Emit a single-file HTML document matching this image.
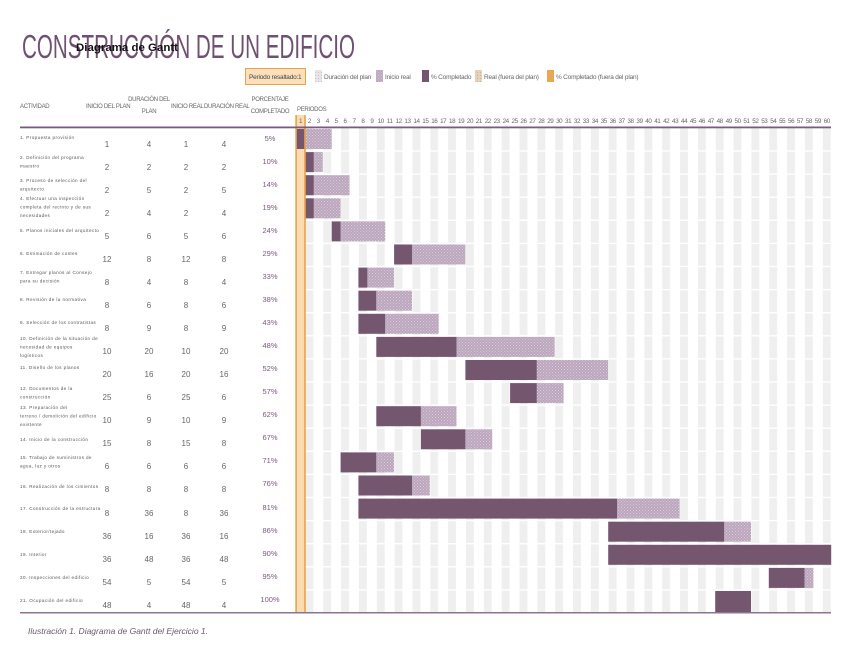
<!DOCTYPE html>
<html><head><meta charset="utf-8"><style>
html,body{margin:0;padding:0;background:#fff;width:848px;height:655px;overflow:hidden}
svg{display:block}
text{font-family:"Liberation Sans",sans-serif}
.a{font-size:4.6px;fill:#555;letter-spacing:0.4px}
.n{font-size:8px;fill:#666;text-anchor:middle}
.p{font-size:7.5px;fill:#7a5a7e;text-anchor:middle}
.h{font-size:6px;fill:#666;letter-spacing:-0.3px}
.hc{font-size:6px;fill:#666;text-anchor:middle;letter-spacing:-0.3px}
.pn text{font-size:6.3px;fill:#666;text-anchor:middle;letter-spacing:-0.4px}
.lg{font-size:6.5px;fill:#666;letter-spacing:-0.2px}
.d{fill:#74566f}
.l{fill:url(#hatch)}
</style></head><body>
<svg width="848" height="655" viewBox="0 0 848 655" xmlns="http://www.w3.org/2000/svg">
<defs>
<pattern id="stripes" x="296" y="0" width="17.84" height="655" patternUnits="userSpaceOnUse">
<rect x="9.4" y="0" width="7.9" height="655" fill="#efefef"/>
</pattern>
<pattern id="hatch" width="3" height="3" patternUnits="userSpaceOnUse">
<rect width="3" height="3" fill="#bba6bd"/><rect width="1" height="1" fill="#d7c9d8"/><rect x="1.5" y="1.5" width="1" height="1" fill="#d7c9d8"/>
</pattern>
<pattern id="hatch2" width="3" height="3" patternUnits="userSpaceOnUse">
<rect width="3" height="3" fill="#e8e4e8"/><rect width="1" height="1" fill="#c9bfca"/>
</pattern>
<pattern id="hatch3" width="3" height="3" patternUnits="userSpaceOnUse">
<rect width="3" height="3" fill="#e6d2b6"/><rect width="1" height="1" fill="#c9b08f"/>
</pattern>
</defs>

<!-- title -->
<text x="22" y="58" font-size="33" fill="#6f5072" textLength="333" lengthAdjust="spacingAndGlyphs">CONSTRUCCIÓN DE UN EDIFICIO</text>
<text x="76" y="51" font-size="11" font-weight="bold" fill="#111" textLength="102" lengthAdjust="spacingAndGlyphs">Diagrama de Gantt</text>

<!-- legend -->
<rect x="245.5" y="68.5" width="60" height="16" fill="#fbe0bb" stroke="#e8a24a" stroke-width="1"/>
<text x="249" y="79" class="lg" fill="#444" style="fill:#444">Periodo resaltado:</text>
<text x="298" y="79" class="lg" style="fill:#444">1</text>
<rect x="315" y="70" width="7" height="12" fill="url(#hatch2)"/>
<text x="324" y="79" class="lg">Duración del plan</text>
<rect x="376" y="70" width="7" height="12" fill="url(#hatch)"/>
<text x="385" y="79" class="lg">Inicio real</text>
<rect x="422" y="70" width="7" height="12" fill="#74566f"/>
<text x="431" y="79" class="lg">% Completado</text>
<rect x="475" y="70" width="7" height="12" fill="url(#hatch3)"/>
<text x="484" y="79" class="lg">Real (fuera del plan)</text>
<rect x="547" y="70" width="7" height="12" fill="#e8a850"/>
<text x="556" y="79" class="lg">% Completado (fuera del plan)</text>

<!-- headers -->
<text x="20" y="108" class="h">ACTIVIDAD</text>
<text x="86" y="108" class="h">INICIO DEL PLAN</text>
<text x="149" y="101" class="hc">DURACIÓN DEL</text>
<text x="149" y="113" class="hc">PLAN</text>
<text x="171" y="108" class="h">INICIO REAL</text>
<text x="204" y="108" class="h">DURACIÓN REAL</text>
<text x="270" y="101" class="hc">PORCENTAJE</text>
<text x="270" y="113" class="hc">COMPLETADO</text>
<text x="297" y="111" class="h">PERIODOS</text>

<!-- grid -->
<rect x="296" y="128" width="535.2" height="485" fill="url(#stripes)"/>
<g fill="#fff">
<rect x="296" y="150.3" width="536" height="1.4"/><rect x="296" y="173.4" width="536" height="1.4"/><rect x="296" y="196.5" width="536" height="1.4"/><rect x="296" y="219.6" width="536" height="1.4"/><rect x="296" y="242.7" width="536" height="1.4"/><rect x="296" y="265.8" width="536" height="1.4"/><rect x="296" y="288.9" width="536" height="1.4"/><rect x="296" y="312" width="536" height="1.4"/><rect x="296" y="335.1" width="536" height="1.4"/><rect x="296" y="358.2" width="536" height="1.4"/><rect x="296" y="381.3" width="536" height="1.4"/><rect x="296" y="404.4" width="536" height="1.4"/><rect x="296" y="427.5" width="536" height="1.4"/><rect x="296" y="450.6" width="536" height="1.4"/><rect x="296" y="473.7" width="536" height="1.4"/><rect x="296" y="496.8" width="536" height="1.4"/><rect x="296" y="519.9" width="536" height="1.4"/><rect x="296" y="543" width="536" height="1.4"/><rect x="296" y="566.1" width="536" height="1.4"/><rect x="296" y="589.2" width="536" height="1.4"/>
</g>
<!-- highlighted period column -->
<rect x="296" y="115" width="9" height="498" fill="#fbdcb0"/>

<!-- bars -->
<g>
<rect class="l" x="304.9" y="129" width="26.8" height="20"/><rect class="d" x="296" y="129" width="8.9" height="20"/>
<rect class="l" x="313.8" y="152.1" width="9" height="20"/><rect class="d" x="304.9" y="152.1" width="8.9" height="20"/>
<rect class="l" x="313.8" y="175.2" width="35.7" height="20"/><rect class="d" x="304.9" y="175.2" width="8.9" height="20"/>
<rect class="l" x="313.8" y="198.3" width="26.8" height="20"/><rect class="d" x="304.9" y="198.3" width="8.9" height="20"/>
<rect class="l" x="340.6" y="221.4" width="44.6" height="20"/><rect class="d" x="331.7" y="221.4" width="8.9" height="20"/>
<rect class="l" x="412" y="244.5" width="53.4" height="20"/><rect class="d" x="394.1" y="244.5" width="17.9" height="20"/>
<rect class="l" x="367.4" y="267.6" width="26.7" height="20"/><rect class="d" x="358.4" y="267.6" width="9" height="20"/>
<rect class="l" x="376.3" y="290.7" width="35.7" height="20"/><rect class="d" x="358.4" y="290.7" width="17.9" height="20"/>
<rect class="l" x="385.2" y="313.8" width="53.5" height="20"/><rect class="d" x="358.4" y="313.8" width="26.8" height="20"/>
<rect class="l" x="456.5" y="336.9" width="98.2" height="20"/><rect class="d" x="376.3" y="336.9" width="80.2" height="20"/>
<rect class="l" x="536.8" y="360" width="71.4" height="20"/><rect class="d" x="465.4" y="360" width="71.4" height="20"/>
<rect class="l" x="536.8" y="383.1" width="26.8" height="20"/><rect class="d" x="510.1" y="383.1" width="26.7" height="20"/>
<rect class="l" x="420.9" y="406.2" width="35.6" height="20"/><rect class="d" x="376.3" y="406.2" width="44.6" height="20"/>
<rect class="l" x="465.4" y="429.3" width="26.8" height="20"/><rect class="d" x="420.9" y="429.3" width="44.5" height="20"/>
<rect class="l" x="376.3" y="452.4" width="17.8" height="20"/><rect class="d" x="340.6" y="452.4" width="35.7" height="20"/>
<rect class="l" x="412" y="475.5" width="17.8" height="20"/><rect class="d" x="358.4" y="475.5" width="53.6" height="20"/>
<rect class="l" x="617.1" y="498.6" width="62.5" height="20"/><rect class="d" x="358.4" y="498.6" width="258.7" height="20"/>
<rect class="l" x="724.2" y="521.7" width="26.8" height="20"/><rect class="d" x="608.2" y="521.7" width="116" height="20"/>
<rect class="d" x="608.2" y="544.8" width="223" height="20"/>
<rect class="l" x="804.5" y="567.9" width="8.9" height="20"/><rect class="d" x="768.8" y="567.9" width="35.7" height="20"/>
<rect class="d" x="715.2" y="591" width="35.8" height="21"/>
</g>

<!-- orange column borders -->
<rect x="295.3" y="115" width="1.6" height="498" fill="#e8a24a"/>
<rect x="304.2" y="115" width="1.6" height="498" fill="#e8a24a"/>

<!-- lines -->
<rect x="20" y="126.5" width="811" height="1.8" fill="#7a5a7e"/>
<rect x="20" y="612" width="811" height="1.5" fill="#8e7391"/>

<!-- period numbers -->
<g class="pn">
<text x="300.5" y="123">1</text><text x="309.4" y="123">2</text><text x="318.3" y="123">3</text><text x="327.3" y="123">4</text><text x="336.2" y="123">5</text><text x="345.1" y="123">6</text><text x="354" y="123">7</text><text x="362.9" y="123">8</text><text x="371.9" y="123">9</text><text x="380.8" y="123">10</text><text x="389.7" y="123">11</text><text x="398.6" y="123">12</text><text x="407.5" y="123">13</text><text x="416.5" y="123">14</text><text x="425.4" y="123">15</text><text x="434.3" y="123">16</text><text x="443.2" y="123">17</text><text x="452.1" y="123">18</text><text x="461.1" y="123">19</text><text x="470" y="123">20</text><text x="478.9" y="123">21</text><text x="487.8" y="123">22</text><text x="496.7" y="123">23</text><text x="505.7" y="123">24</text><text x="514.6" y="123">25</text><text x="523.5" y="123">26</text><text x="532.4" y="123">27</text><text x="541.3" y="123">28</text><text x="550.3" y="123">29</text><text x="559.2" y="123">30</text><text x="568.1" y="123">31</text><text x="577" y="123">32</text><text x="585.9" y="123">33</text><text x="594.9" y="123">34</text><text x="603.8" y="123">35</text><text x="612.7" y="123">36</text><text x="621.6" y="123">37</text><text x="630.5" y="123">38</text><text x="639.5" y="123">39</text><text x="648.4" y="123">40</text><text x="657.3" y="123">41</text><text x="666.2" y="123">42</text><text x="675.1" y="123">43</text><text x="684.1" y="123">44</text><text x="693" y="123">45</text><text x="701.9" y="123">46</text><text x="710.8" y="123">47</text><text x="719.7" y="123">48</text><text x="728.7" y="123">49</text><text x="737.6" y="123">50</text><text x="746.5" y="123">51</text><text x="755.4" y="123">52</text><text x="764.3" y="123">53</text><text x="773.3" y="123">54</text><text x="782.2" y="123">55</text><text x="791.1" y="123">56</text><text x="800" y="123">57</text><text x="808.9" y="123">58</text><text x="817.9" y="123">59</text><text x="826.8" y="123">60</text>
</g>

<!-- activity rows -->
<g>
<text class="a" x="20" y="139">1. Propuesta provisión</text>
<text class="a" x="20" y="159">2. Definición del programa</text><text class="a" x="20" y="167.5">maestro</text>
<text class="a" x="20" y="182">3. Proceso de selección del</text><text class="a" x="20" y="190.5">arquitecto</text>
<text class="a" x="20" y="200">4. Efectuar una inspección</text><text class="a" x="20" y="208.5">completa del recinto y de sus</text><text class="a" x="20" y="217">necesidades</text>
<text class="a" x="20" y="232">5. Planos iniciales del arquitecto</text>
<text class="a" x="20" y="255">6. Estimación de costes</text>
<text class="a" x="20" y="274">7. Entregar planos al Consejo</text><text class="a" x="20" y="282.5">para su decisión</text>
<text class="a" x="20" y="301">8. Revisión de la normativa</text>
<text class="a" x="20" y="324">9. Selección de los contratistas</text>
<text class="a" x="20" y="340">10. Definición de la situación de</text><text class="a" x="20" y="348.5">necesidad de equipos</text><text class="a" x="20" y="357">logísticos</text>
<text class="a" x="20" y="369">11. Diseño de los planos</text>
<text class="a" x="20" y="390">12. Documentos de la</text><text class="a" x="20" y="398.5">construcción</text>
<text class="a" x="20" y="409">13. Preparación del</text><text class="a" x="20" y="417.5">terreno / demolición del edificio</text><text class="a" x="20" y="426">existente</text>
<text class="a" x="20" y="441">14. Inicio de la construcción</text>
<text class="a" x="20" y="459">15. Trabajo de suministros de</text><text class="a" x="20" y="467.5">agua, luz y otros</text>
<text class="a" x="20" y="488">16. Realización de los cimientos</text>
<text class="a" x="20" y="510">17. Construcción de la estructura</text>
<text class="a" x="20" y="533">18. Exterior/tejado</text>
<text class="a" x="20" y="556">19. Interior</text>
<text class="a" x="20" y="579">20. Inspecciones del edificio</text>
<text class="a" x="20" y="602">21. Ocupación del edificio</text>
</g>

<!-- numbers -->
<g>
<text class="n" x="107" y="147">1</text><text class="n" x="149" y="147">4</text><text class="n" x="186" y="147">1</text><text class="n" x="224" y="147">4</text><text class="p" x="270" y="141">5%</text>
<text class="n" x="107" y="170">2</text><text class="n" x="149" y="170">2</text><text class="n" x="186" y="170">2</text><text class="n" x="224" y="170">2</text><text class="p" x="270" y="164">10%</text>
<text class="n" x="107" y="193">2</text><text class="n" x="149" y="193">5</text><text class="n" x="186" y="193">2</text><text class="n" x="224" y="193">5</text><text class="p" x="270" y="187">14%</text>
<text class="n" x="107" y="216">2</text><text class="n" x="149" y="216">4</text><text class="n" x="186" y="216">2</text><text class="n" x="224" y="216">4</text><text class="p" x="270" y="210">19%</text>
<text class="n" x="107" y="239">5</text><text class="n" x="149" y="239">6</text><text class="n" x="186" y="239">5</text><text class="n" x="224" y="239">6</text><text class="p" x="270" y="233">24%</text>
<text class="n" x="107" y="262">12</text><text class="n" x="149" y="262">8</text><text class="n" x="186" y="262">12</text><text class="n" x="224" y="262">8</text><text class="p" x="270" y="256">29%</text>
<text class="n" x="107" y="285">8</text><text class="n" x="149" y="285">4</text><text class="n" x="186" y="285">8</text><text class="n" x="224" y="285">4</text><text class="p" x="270" y="279">33%</text>
<text class="n" x="107" y="308">8</text><text class="n" x="149" y="308">6</text><text class="n" x="186" y="308">8</text><text class="n" x="224" y="308">6</text><text class="p" x="270" y="302">38%</text>
<text class="n" x="107" y="331">8</text><text class="n" x="149" y="331">9</text><text class="n" x="186" y="331">8</text><text class="n" x="224" y="331">9</text><text class="p" x="270" y="325">43%</text>
<text class="n" x="107" y="354">10</text><text class="n" x="149" y="354">20</text><text class="n" x="186" y="354">10</text><text class="n" x="224" y="354">20</text><text class="p" x="270" y="348">48%</text>
<text class="n" x="107" y="377">20</text><text class="n" x="149" y="377">16</text><text class="n" x="186" y="377">20</text><text class="n" x="224" y="377">16</text><text class="p" x="270" y="371">52%</text>
<text class="n" x="107" y="400">25</text><text class="n" x="149" y="400">6</text><text class="n" x="186" y="400">25</text><text class="n" x="224" y="400">6</text><text class="p" x="270" y="394">57%</text>
<text class="n" x="107" y="423">10</text><text class="n" x="149" y="423">9</text><text class="n" x="186" y="423">10</text><text class="n" x="224" y="423">9</text><text class="p" x="270" y="417">62%</text>
<text class="n" x="107" y="446">15</text><text class="n" x="149" y="446">8</text><text class="n" x="186" y="446">15</text><text class="n" x="224" y="446">8</text><text class="p" x="270" y="440">67%</text>
<text class="n" x="107" y="469">6</text><text class="n" x="149" y="469">6</text><text class="n" x="186" y="469">6</text><text class="n" x="224" y="469">6</text><text class="p" x="270" y="463">71%</text>
<text class="n" x="107" y="492">8</text><text class="n" x="149" y="492">8</text><text class="n" x="186" y="492">8</text><text class="n" x="224" y="492">8</text><text class="p" x="270" y="486">76%</text>
<text class="n" x="107" y="516">8</text><text class="n" x="149" y="516">36</text><text class="n" x="186" y="516">8</text><text class="n" x="224" y="516">36</text><text class="p" x="270" y="510">81%</text>
<text class="n" x="107" y="539">36</text><text class="n" x="149" y="539">16</text><text class="n" x="186" y="539">36</text><text class="n" x="224" y="539">16</text><text class="p" x="270" y="533">86%</text>
<text class="n" x="107" y="562">36</text><text class="n" x="149" y="562">48</text><text class="n" x="186" y="562">36</text><text class="n" x="224" y="562">48</text><text class="p" x="270" y="556">90%</text>
<text class="n" x="107" y="585">54</text><text class="n" x="149" y="585">5</text><text class="n" x="186" y="585">54</text><text class="n" x="224" y="585">5</text><text class="p" x="270" y="579">95%</text>
<text class="n" x="107" y="608">48</text><text class="n" x="149" y="608">4</text><text class="n" x="186" y="608">48</text><text class="n" x="224" y="608">4</text><text class="p" x="270" y="602">100%</text>
</g>

<!-- caption -->
<text x="28" y="634" font-size="8.5" font-style="italic" fill="#6a5a6c">Ilustración 1. Diagrama de Gantt del Ejercicio 1.</text>
</svg>
</body></html>
